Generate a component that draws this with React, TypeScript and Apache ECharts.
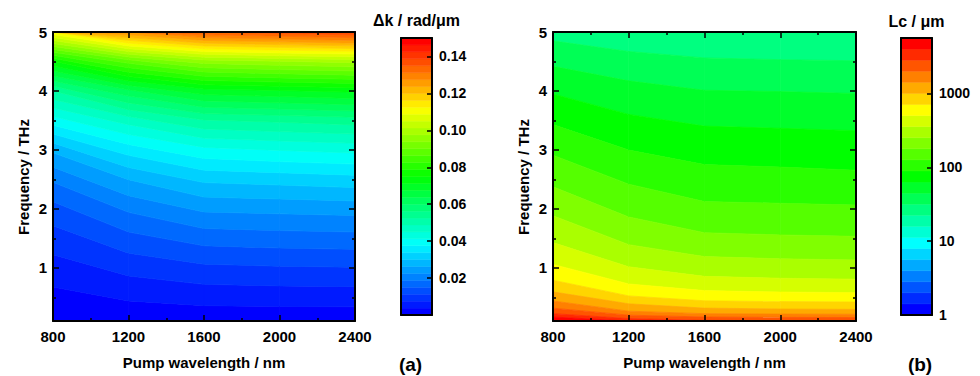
import React, { useEffect, useRef } from "react";
import * as echarts from "echarts";

// ---------------- data ----------------
const wavelengthsNm = [800, 1200, 1600, 2000, 2400];
const frequenciesTHz = [0.1, 0.25, 0.5, 0.75, 1, 1.5, 2, 2.5, 3, 3.5, 4, 4.5, 5];

// Δk (rad/μm) along frequency, one list per pump wavelength
const deltaK800 = [0.00052, 0.0013, 0.00265, 0.0042, 0.0059, 0.00945, 0.0136, 0.0193, 0.027, 0.0395, 0.0525, 0.0747, 0.112];
const deltaK1200 = [0.00087, 0.00213, 0.00425, 0.0065, 0.0087, 0.0138, 0.0194, 0.0263, 0.0354, 0.0466, 0.0628, 0.0878, 0.1275];
const deltaK1600 = [0.00104, 0.0026, 0.0052, 0.0078, 0.0105, 0.0165, 0.0232, 0.0308, 0.0402, 0.0522, 0.0696, 0.0954, 0.135];
const deltaK2000 = [0.00108, 0.0027, 0.0054, 0.0081, 0.0109, 0.017, 0.0236, 0.0315, 0.0414, 0.0532, 0.0708, 0.0972, 0.137];
const deltaK2400 = [0.0011, 0.00275, 0.0055, 0.00825, 0.0111, 0.0173, 0.024, 0.0323, 0.0423, 0.0543, 0.072, 0.0986, 0.139];

// Coherence length Lc (μm) along frequency, one list per pump wavelength
const lc800 = [6000, 2420, 1190, 750, 530, 332, 231, 163, 119, 85, 61, 42, 28];
const lc1200 = [3600, 1480, 740, 483, 361, 228, 162, 120, 89, 67, 50, 36, 24.6];
const lc1600 = [3020, 1210, 604, 403, 299, 190, 135, 102, 78, 60, 45, 33, 23.3];
const lc2000 = [2910, 1160, 582, 388, 288, 185, 133, 100, 76, 59, 44.4, 32.3, 22.9];
const lc2400 = [2860, 1140, 571, 381, 283, 182, 131, 97, 74, 58, 43.6, 31.9, 22.6];

// axes and colour bars
const xTickLabels = [800, 1200, 1600, 2000, 2400];
const yTickLabels = [1, 2, 3, 4, 5];
const yMinorTicks = [0.5, 1.5, 2.5, 3.5, 4.5];
const deltaKBarTicks = [0.02, 0.04, 0.06, 0.08, 0.1, 0.12, 0.14];
const lcBarTicks = [1, 10, 100, 1000];
const deltaKRange = [0, 0.15];
const deltaKBandCount = 40;
const lcRange = [1, 5623];
const lcBandCount = 25;

// ---------------- helpers ----------------
const deltaKColumns = [deltaK800, deltaK1200, deltaK1600, deltaK2000, deltaK2400];
const lcColumns = [lc800, lc1200, lc1600, lc2000, lc2400];

const FONT = "'Liberation Sans', Arial, Helvetica, sans-serif";

function rainbow(t: number): string {
  const stops = [
    [0, 0, 255],
    [0, 255, 255],
    [0, 255, 0],
    [255, 255, 0],
    [255, 0, 0],
  ];
  const p = Math.max(0, Math.min(1, t)) * 4;
  const i = Math.min(3, Math.floor(p));
  const u = p - i;
  const a = stops[i];
  const b = stops[i + 1];
  const c = a.map((v, k) => Math.round(v + (b[k] - v) * u));
  return `rgb(${c[0]},${c[1]},${c[2]})`;
}

function makeEdges(lo: number, hi: number, n: number): number[] {
  const e: number[] = [];
  for (let i = 0; i <= n; i++) e.push(lo + ((hi - lo) * i) / n);
  return e;
}
function makeColors(n: number): string[] {
  const c: string[] = [];
  for (let i = 0; i < n; i++) c.push(rainbow(i / (n - 1)));
  return c;
}

// frequency at which a (monotone) column reaches level L, clamped to the axis range
function levelF(vals: number[], L: number): number {
  const fs = frequenciesTHz;
  const n = vals.length;
  const inc = vals[n - 1] > vals[0];
  if (inc ? L <= vals[0] : L >= vals[0]) return fs[0];
  if (inc ? L >= vals[n - 1] : L <= vals[n - 1]) return fs[n - 1];
  for (let i = 0; i < n - 1; i++) {
    const a = vals[i];
    const b = vals[i + 1];
    if ((L - a) * (L - b) <= 0 && a !== b) return fs[i] + ((L - a) / (b - a)) * (fs[i + 1] - fs[i]);
  }
  return fs[n - 1];
}

function contourRenderer(columns: number[][], tf: (v: number) => number, edges: number[], colors: string[]) {
  const nb = colors.length;
  const tcols = columns.map((c) => c.map(tf));
  return (params: any, api: any) => {
    const ci = params.dataIndex;
    const x0 = wavelengthsNm[ci];
    const x1 = wavelengthsNm[ci + 1];
    const c0 = tcols[ci];
    const c1 = tcols[ci + 1];
    const children: any[] = [];
    for (let k = 0; k < nb; k++) {
      const lo = k === 0 ? -Infinity : edges[k];
      const hi = k === nb - 1 ? Infinity : edges[k + 1];
      const a0 = levelF(c0, lo), b0 = levelF(c0, hi);
      const a1 = levelF(c1, lo), b1 = levelF(c1, hi);
      if (a0 === b0 && a1 === b1) continue;
      const pts = [
        api.coord([x0, a0]),
        api.coord([x1, a1]),
        api.coord([x1, b1]),
        api.coord([x0, b0]),
      ];
      children.push({
        type: "polygon",
        shape: { points: pts },
        style: { fill: colors[k], stroke: colors[k], lineWidth: 0.7 },
      });
    }
    return { type: "group", children };
  };
}

function barRenderer(edges: number[], colors: string[]) {
  return (params: any, api: any) => {
    const k = params.dataIndex;
    const p0 = api.coord([0, edges[k]]);
    const p1 = api.coord([1, edges[k + 1]]);
    return {
      type: "rect",
      shape: { x: p0[0], y: p1[1], width: p1[0] - p0[0], height: p0[1] - p1[1] },
      style: { fill: colors[k], stroke: colors[k], lineWidth: 0.5 },
    };
  };
}

const frameLine = { color: "#000", width: 2 };
const tickLine = { color: "#000", width: 1.5 };
const labelStyle = (size: number) => ({ color: "#000", fontSize: size, fontWeight: "bold" as const, fontFamily: FONT });

function xAxisMain(gridIndex: number, position: string, showLabels: boolean) {
  return {
    type: "value",
    gridIndex,
    position,
    min: xTickLabels[0],
    max: xTickLabels[xTickLabels.length - 1],
    interval: xTickLabels[1] - xTickLabels[0],
    z: 10,
    axisLine: { show: true, onZero: false, lineStyle: frameLine },
    axisTick: { show: true, inside: true, length: 6, lineStyle: tickLine },
    minorTick: { show: true, splitNumber: 2, length: 3, lineStyle: tickLine },
    axisLabel: { show: showLabels, margin: 8, formatter: (v: number) => String(v), ...labelStyle(15) },
    splitLine: { show: false },
    minorSplitLine: { show: false },
  };
}

function yAxisMain(gridIndex: number, position: string, values: number[], len: number, showLine: boolean, showLabels: boolean) {
  return {
    type: "value",
    gridIndex,
    position,
    min: frequenciesTHz[0],
    max: frequenciesTHz[frequenciesTHz.length - 1],
    z: 10,
    axisLine: { show: showLine, onZero: false, lineStyle: frameLine },
    axisTick: { show: true, inside: true, length: len, customValues: values, lineStyle: tickLine },
    axisLabel: { show: showLabels, customValues: values, margin: 6, formatter: (v: number) => String(v), ...labelStyle(15) },
    splitLine: { show: false },
  };
}

function frameX(gridIndex: number, position: string) {
  return {
    type: "value",
    gridIndex,
    position,
    min: 0,
    max: 1,
    z: 10,
    axisLine: { show: true, onZero: false, lineStyle: frameLine },
    axisTick: { show: false },
    axisLabel: { show: false },
    splitLine: { show: false },
  };
}

function title(text: string, x: number, y: number, size: number, rotation = 0) {
  return {
    type: "text",
    x,
    y,
    rotation,
    style: {
      text,
      align: "center",
      verticalAlign: "middle",
      textAlign: "center",
      textVerticalAlign: "middle",
      fill: "#000",
      fontSize: size,
      fontWeight: "bold",
      fontFamily: FONT,
    },
  };
}

export default function App() {
  const ref = useRef<HTMLDivElement>(null);
  useEffect(() => {
    if (!ref.current) return;
    const chart = echarts.init(ref.current, undefined, { renderer: "svg" });

    const dkEdges = makeEdges(deltaKRange[0], deltaKRange[1], deltaKBandCount);
    const dkColors = makeColors(deltaKBandCount);
    const lcLogMin = Math.log10(lcRange[0]);
    const lcLogMax = Math.log10(lcRange[1]);
    const lcEdges = makeEdges(lcLogMin, lcLogMax, lcBandCount);
    const lcColors = makeColors(lcBandCount);

    const strips: number[][] = [];
    for (let ci = 0; ci < wavelengthsNm.length - 1; ci++) strips.push([wavelengthsNm[ci], frequenciesTHz[0]]);

    const lcBarLog = lcBarTicks.map((v) => Math.log10(v));

    const option: any = {
      animation: false,
      backgroundColor: "#fff",
      grid: [
        { left: 53, top: 32, width: 302, height: 289 },
        { left: 553, top: 32, width: 303, height: 289 },
        { left: 401, top: 38, width: 31, height: 277 },
        { left: 901, top: 38, width: 31, height: 277 },
      ],
      xAxis: [
        xAxisMain(0, "bottom", true),
        xAxisMain(0, "top", false),
        xAxisMain(1, "bottom", true),
        xAxisMain(1, "top", false),
        frameX(2, "bottom"),
        frameX(2, "top"),
        frameX(3, "bottom"),
        frameX(3, "top"),
      ],
      yAxis: [
        yAxisMain(0, "left", yTickLabels, 6, true, true),
        yAxisMain(0, "left", yMinorTicks, 3, false, false),
        yAxisMain(0, "right", yTickLabels, 6, true, false),
        yAxisMain(0, "right", yMinorTicks, 3, false, false),
        yAxisMain(1, "left", yTickLabels, 6, true, true),
        yAxisMain(1, "left", yMinorTicks, 3, false, false),
        yAxisMain(1, "right", yTickLabels, 6, true, false),
        yAxisMain(1, "right", yMinorTicks, 3, false, false),
        {
          type: "value", gridIndex: 2, position: "left", min: deltaKRange[0], max: deltaKRange[1], z: 10,
          axisLine: { show: true, onZero: false, lineStyle: frameLine },
          axisTick: { show: false }, axisLabel: { show: false }, splitLine: { show: false },
        },
        {
          type: "value", gridIndex: 2, position: "right", min: deltaKRange[0], max: deltaKRange[1], z: 10,
          axisLine: { show: true, onZero: false, lineStyle: frameLine },
          axisTick: { show: true, inside: true, length: 5, customValues: deltaKBarTicks, lineStyle: tickLine },
          axisLabel: { show: true, customValues: deltaKBarTicks, margin: 7, formatter: (v: number) => v.toFixed(2), ...labelStyle(14) },
          splitLine: { show: false },
        },
        {
          type: "value", gridIndex: 3, position: "left", min: lcLogMin, max: lcLogMax, z: 10,
          axisLine: { show: true, onZero: false, lineStyle: frameLine },
          axisTick: { show: false }, axisLabel: { show: false }, splitLine: { show: false },
        },
        {
          type: "value", gridIndex: 3, position: "right", min: lcLogMin, max: lcLogMax, z: 10,
          axisLine: { show: true, onZero: false, lineStyle: frameLine },
          axisTick: { show: true, inside: true, length: 5, customValues: lcBarLog.filter((v) => v > lcLogMin), lineStyle: tickLine },
          axisLabel: {
            show: true, customValues: lcBarLog, margin: 7,
            formatter: (v: number) => String(Math.round(Math.pow(10, v))), ...labelStyle(14),
          },
          splitLine: { show: false },
        },
      ],
      series: [
        {
          type: "custom", name: "Δk", xAxisIndex: 0, yAxisIndex: 0, clip: true, silent: true, z: 2,
          encode: { x: 0, y: 1 }, data: strips,
          renderItem: contourRenderer(deltaKColumns, (v) => v, dkEdges, dkColors),
        },
        {
          type: "custom", name: "Lc", xAxisIndex: 2, yAxisIndex: 4, clip: true, silent: true, z: 2,
          encode: { x: 0, y: 1 }, data: strips,
          renderItem: contourRenderer(lcColumns, (v) => Math.log10(v), lcEdges, lcColors),
        },
        {
          type: "custom", name: "Δk bar", xAxisIndex: 4, yAxisIndex: 9, clip: true, silent: true, z: 2,
          encode: { x: 0, y: 1 }, data: dkColors.map((_, k) => [0.5, (dkEdges[k] + dkEdges[k + 1]) / 2]),
          renderItem: barRenderer(dkEdges, dkColors),
        },
        {
          type: "custom", name: "Lc bar", xAxisIndex: 6, yAxisIndex: 11, clip: true, silent: true, z: 2,
          encode: { x: 0, y: 1 }, data: lcColors.map((_, k) => [0.5, (lcEdges[k] + lcEdges[k + 1]) / 2]),
          renderItem: barRenderer(lcEdges, lcColors),
        },
      ],
      graphic: [
        title("Frequency / THz", 23, 177, 15, Math.PI / 2),
        title("Frequency / THz", 523, 177, 15, Math.PI / 2),
        title("Pump wavelength / nm", 204, 362, 15),
        title("Pump wavelength / nm", 704.5, 362, 15),
        title("Δk / rad/μm", 416.5, 20, 16),
        title("Lc / μm", 916.5, 21, 16),
        title("(a)", 410.5, 364, 19),
        title("(b)", 920, 364, 19),
      ],
    };

    chart.setOption(option);
    return () => chart.dispose();
  }, []);

  return (
    <div
      ref={ref}
      style={{ position: "fixed", left: 0, top: 0, width: 980, height: 376, background: "#fff" }}
    />
  );
}
